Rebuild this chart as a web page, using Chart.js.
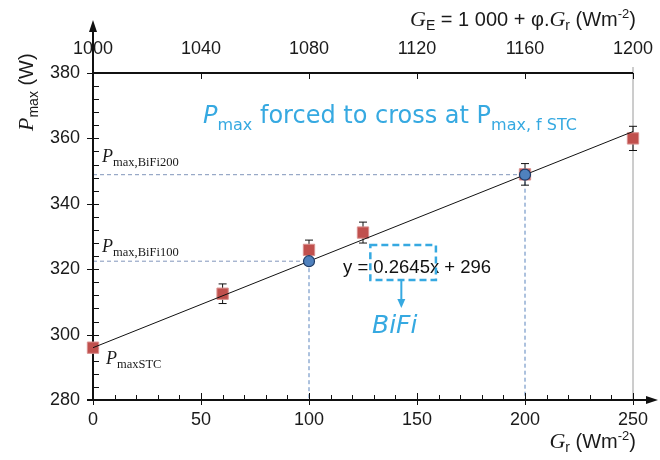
<!DOCTYPE html>
<html>
<head>
<meta charset="utf-8">
<script src="https://cdn.jsdelivr.net/npm/chart.js@4.4.0/dist/chart.umd.min.js"></script>
<style>
  html, body { margin: 0; padding: 0; background: #fff; }
</style>
</head>
<body>
<canvas id="chart" width="660" height="460"></canvas>
<script>
// measured points (G_r in W/m2, Pmax in W)
const grVals = [0, 60, 100, 125, 200, 250];
const pmaxVals = [296, 312.5, 325.9, 331.2, 349, 360];
const pmaxErr = [0, 3, 3, 3.2, 3.3, 3.7];

// BiFi points forced onto the fit line
const bifiGr = [100, 200];
const bifiPmax = [322.45, 348.9];

// fit line y = 0.2645x + 296
const fitGr = [0, 250];
const fitPmax = [296, 362.1];

// tick labels
const grTicks = [0, 50, 100, 150, 200, 250];
const geTicks = [1000, 1040, 1080, 1120, 1160, 1200];
const pTicks = [280, 300, 320, 340, 360, 380];

const SANS = "'Liberation Sans', Arial, sans-serif";
const SERIF = "'Liberation Serif', 'Times New Roman', serif";
const VERD = "'DejaVu Sans', Verdana, sans-serif";
const BLUE = '#36a9e1';

function runs(ctx, x, y, parts) {
    for (const p of parts) {
        ctx.font = p.f;
        ctx.fillText(p.t, x, y + (p.dy || 0));
        x += ctx.measureText(p.t).width;
    }
    return x;
}

function runsWidth(ctx, parts) {
    let w = 0;
    for (const p of parts) { ctx.font = p.f; w += ctx.measureText(p.t).width; }
    return w;
}

const decor = {
    id: 'decor',
    beforeDatasetsDraw(chart) {
        const { ctx, chartArea: a } = chart;
        const xs = chart.scales.x, ys = chart.scales.y;
        ctx.save();

        // grey line at the last measurement
        ctx.strokeStyle = '#9a9a9a';
        ctx.lineWidth = 1;
        ctx.beginPath();
        ctx.moveTo(xs.getPixelForValue(250), a.top - 6);
        ctx.lineTo(xs.getPixelForValue(250), a.bottom);
        ctx.stroke();

        // dashed guides to the BiFi points
        ctx.setLineDash([4, 3]);
        bifiGr.forEach((g, i) => {
            const px = xs.getPixelForValue(g), py = ys.getPixelForValue(bifiPmax[i]);
            ctx.strokeStyle = '#8196bb';
            ctx.beginPath();
            ctx.moveTo(a.left, py);
            ctx.lineTo(px, py);
            ctx.stroke();
            ctx.strokeStyle = '#5a84bd';
            ctx.beginPath();
            ctx.moveTo(px, py);
            ctx.lineTo(px, a.bottom);
            ctx.stroke();
        });
        ctx.setLineDash([]);

        // error bars
        ctx.strokeStyle = '#111';
        ctx.lineWidth = 1;
        grVals.forEach((g, i) => {
            if (!pmaxErr[i]) return;
            const px = xs.getPixelForValue(g);
            const hi = ys.getPixelForValue(pmaxVals[i] + pmaxErr[i]);
            const lo = ys.getPixelForValue(pmaxVals[i] - pmaxErr[i]);
            ctx.beginPath();
            ctx.moveTo(px, hi); ctx.lineTo(px, lo);
            ctx.moveTo(px - 4, hi); ctx.lineTo(px + 4, hi);
            ctx.moveTo(px - 4, lo); ctx.lineTo(px + 4, lo);
            ctx.stroke();
        });

        // axes
        ctx.strokeStyle = '#111';
        ctx.fillStyle = '#111';
        ctx.lineWidth = 2;
        ctx.beginPath();
        ctx.moveTo(a.left, a.bottom + 1);
        ctx.lineTo(a.left, 30);
        ctx.moveTo(a.left - 6, a.bottom);
        ctx.lineTo(648, a.bottom);
        ctx.moveTo(a.left, a.top);
        ctx.lineTo(a.right, a.top);
        ctx.stroke();
        ctx.beginPath();
        ctx.moveTo(a.left - 4, 32); ctx.lineTo(a.left + 4, 32); ctx.lineTo(a.left, 20);
        ctx.closePath(); ctx.fill();
        ctx.beginPath();
        ctx.moveTo(646, a.bottom - 4); ctx.lineTo(646, a.bottom + 4); ctx.lineTo(658, a.bottom);
        ctx.closePath(); ctx.fill();

        // tick marks
        ctx.lineWidth = 1;
        ctx.beginPath();
        for (let v = 280; v <= 380; v += 4) {
            const py = Math.round(ys.getPixelForValue(v)) + 0.5;
            const major = v % 20 === 0;
            ctx.moveTo(major ? a.left - 6 : a.left, py);
            ctx.lineTo(a.left + 6, py);
        }
        for (let g = 0; g <= 250; g += 10) {
            const px = Math.round(xs.getPixelForValue(g)) + 0.5;
            const major = g % 50 === 0;
            ctx.moveTo(px, a.bottom - (major ? 7 : 5));
            ctx.lineTo(px, a.bottom + (major ? 5 : 0));
        }
        const x2 = chart.scales.x2;
        geTicks.forEach(v => {
            const px = Math.round(x2.getPixelForValue(v)) + 0.5;
            ctx.moveTo(px, a.top);
            ctx.lineTo(px, a.top + 6);
        });
        ctx.stroke();
        ctx.restore();
    },
    afterDraw(chart) {
        const { ctx } = chart;
        ctx.save();
        ctx.textBaseline = 'alphabetic';
        ctx.textAlign = 'left';
        ctx.fillStyle = '#1a1a1a';

        // top axis title, right edge near 636
        const topTitle = [
            { t: 'G', f: `italic 22px ${SERIF}` },
            { t: 'E', f: `14px ${SANS}`, dy: 4 },
            { t: ' = 1 000 + \u03C6.', f: `20px ${SANS}` },
            { t: 'G', f: `italic 22px ${SERIF}` },
            { t: 'r', f: `14px ${SANS}`, dy: 4 },
            { t: ' (Wm', f: `20px ${SANS}` },
            { t: '-2', f: `13px ${SANS}`, dy: -8 },
            { t: ')', f: `20px ${SANS}` }
        ];
        runs(ctx, 636 - runsWidth(ctx, topTitle), 26, topTitle);

        // bottom axis title
        const botTitle = [
            { t: 'G', f: `italic 22px ${SERIF}` },
            { t: 'r', f: `14px ${SANS}`, dy: 4 },
            { t: ' (Wm', f: `20px ${SANS}` },
            { t: '-2', f: `13px ${SANS}`, dy: -8 },
            { t: ')', f: `20px ${SANS}` }
        ];
        runs(ctx, 636 - runsWidth(ctx, botTitle), 448, botTitle);

        // y axis title
        ctx.save();
        ctx.translate(33, 131);
        ctx.rotate(-Math.PI / 2);
        runs(ctx, 0, 0, [
            { t: 'P', f: `italic 22px ${SERIF}` },
            { t: 'max', f: `14px ${SANS}`, dy: 5 },
            { t: ' (W)', f: `20px ${SANS}` }
        ]);
        ctx.restore();

        // point labels
        const lab = (x, y, sub) => runs(ctx, x, y, [
            { t: 'P', f: `italic 18px ${SERIF}` },
            { t: sub, f: `12.5px ${SERIF}`, dy: 4 }
        ]);
        lab(102, 162, 'max,BiFi200');
        lab(102, 252, 'max,BiFi100');
        lab(106, 364, 'maxSTC');

        // blue headline
        ctx.fillStyle = BLUE;
        runs(ctx, 203, 123, [
            { t: 'P', f: `italic 24px ${VERD}` },
            { t: 'max', f: `16px ${VERD}`, dy: 7 },
            { t: ' forced to cross at P', f: `24px ${VERD}` },
            { t: 'max, f STC', f: `16px ${VERD}`, dy: 7 }
        ]);

        // fit equation with highlighted slope
        ctx.fillStyle = '#111';
        ctx.font = `18.5px ${SANS}`;
        const pre = 'y = ', slope = '0.2645';
        ctx.fillText(pre + slope + 'x + 296', 343, 273);
        const sx = 343 + ctx.measureText(pre).width;
        const sw = ctx.measureText(slope).width;

        ctx.strokeStyle = BLUE;
        ctx.fillStyle = BLUE;
        ctx.lineWidth = 2.5;
        ctx.setLineDash([7, 4]);
        ctx.strokeRect(sx - 3, 245, sw + 9, 35);
        ctx.setLineDash([]);
        const ax = sx + 28;
        ctx.lineWidth = 2;
        ctx.beginPath();
        ctx.moveTo(ax, 281); ctx.lineTo(ax, 300);
        ctx.stroke();
        ctx.beginPath();
        ctx.moveTo(ax - 4, 299); ctx.lineTo(ax + 4, 299); ctx.lineTo(ax, 308);
        ctx.closePath(); ctx.fill();

        ctx.font = `italic 25px ${VERD}`;
        ctx.fillText('BiFi', 372, 333);
        ctx.restore();
    }
};

const tickFont = { family: SANS, size: 18 };
const noPad = s => { s.paddingLeft = 0; s.paddingRight = 0; s.paddingTop = 0; s.paddingBottom = 0; };

new Chart(document.getElementById('chart'), {
    type: 'scatter',
    data: {
        datasets: [
            {
                label: 'BiFi',
                data: bifiGr.map((g, i) => ({ x: g, y: bifiPmax[i] })),
                pointStyle: 'circle',
                pointRadius: 5.5,
                backgroundColor: '#4f81bd',
                borderColor: '#1f3c66',
                borderWidth: 1.2,
                order: 0,
                clip: false
            },
            {
                label: 'fit',
                type: 'line',
                data: fitGr.map((g, i) => ({ x: g, y: fitPmax[i] })),
                borderColor: '#111',
                borderWidth: 1,
                pointRadius: 0,
                fill: false,
                order: 1,
                clip: false
            },
            {
                label: 'Pmax',
                data: grVals.map((g, i) => ({ x: g, y: pmaxVals[i] })),
                pointStyle: 'rect',
                pointRadius: 8,
                backgroundColor: '#c0504d',
                borderColor: '#d9908e',
                borderWidth: 1,
                order: 2,
                clip: false
            }
        ]
    },
    options: {
        responsive: false,
        animation: false,
        layout: { padding: { left: 0, right: 27, top: 0, bottom: 0 } },
        plugins: { legend: { display: false }, tooltip: { enabled: false } },
        scales: {
            x: {
                type: 'linear', position: 'bottom', min: 0, max: 250,
                afterBuildTicks: s => { s.ticks = grTicks.map(v => ({ value: v })); },
                afterFit: s => { s.height = 60; noPad(s); },
                grid: { display: false, drawTicks: false },
                border: { display: false },
                ticks: { font: tickFont, color: '#1a1a1a', padding: 9, maxRotation: 0, callback: v => String(v) }
            },
            x2: {
                type: 'linear', position: 'top', min: 1000, max: 1200,
                afterBuildTicks: s => { s.ticks = geTicks.map(v => ({ value: v })); },
                afterFit: s => { s.height = 73; noPad(s); },
                grid: { display: false, drawTicks: false },
                border: { display: false },
                ticks: { font: tickFont, color: '#1a1a1a', padding: 13, maxRotation: 0, callback: v => String(v) }
            },
            y: {
                type: 'linear', position: 'left', min: 280, max: 380,
                afterBuildTicks: s => { s.ticks = pTicks.map(v => ({ value: v })); },
                afterFit: s => { s.width = 93; noPad(s); },
                grid: { display: false, drawTicks: false },
                border: { display: false },
                ticks: { font: tickFont, color: '#1a1a1a', padding: 13, callback: v => String(v) }
            }
        }
    },
    plugins: [decor]
});
</script>
</body>
</html>
